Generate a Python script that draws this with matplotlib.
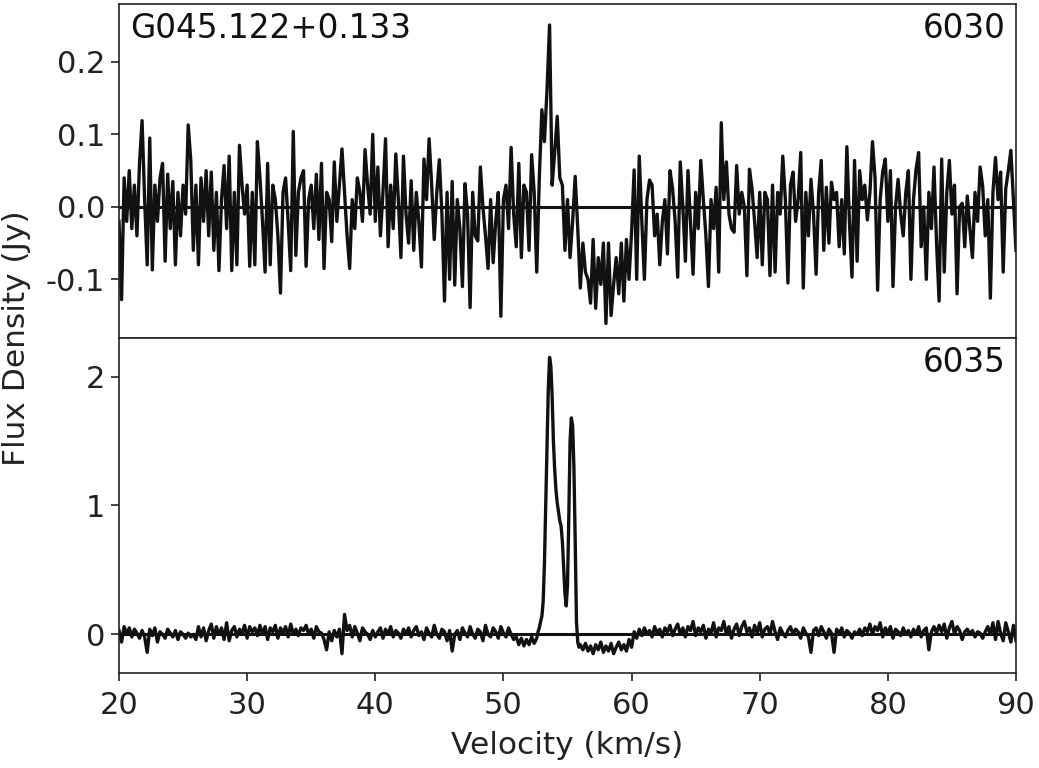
import numpy as np
import matplotlib
matplotlib.use("Agg")
import matplotlib.pyplot as plt

# ---------------- data ----------------
source_name = "G045.122+0.133"
label_top = "6030"
label_bot = "6035"

# top panel (6030 MHz): velocity grid 20..90 km/s, 0.2 km/s channels
top_vel = np.linspace(20.0, 90.0, 351)
top_flux = [
    -0.02, -0.128, 0.04, -0.02, 0.05, -0.03, 0.03, -0.04, 0.06, 0.119,
    0.01, -0.08, 0.095, -0.087, 0.03, -0.02, 0.04, 0.06, -0.075, 0.045,
    -0.03, 0.035, -0.08, 0.02, -0.04, 0.03, -0.01, 0.113, 0.065, -0.06,
    0.03, -0.08, 0.04, -0.02, 0.05, -0.04, 0.048, -0.06, 0.02, -0.088,
    0.01, 0.057, -0.03, 0.07, -0.088, 0.02, -0.08, 0.085, 0.03, -0.01,
    0.03, -0.082, 0.02, -0.08, 0.09, 0.04, -0.02, -0.09, 0.06, -0.08,
    0.03, 0.01, -0.04, -0.119, 0.02, 0.04, -0.02, -0.088, 0.104, -0.067,
    0.02, 0.04, 0.05, -0.082, 0.01, 0.03, -0.03, 0.045, -0.045, 0.06,
    -0.085, 0.02, 0.01, -0.048, 0.062, -0.02, 0.03, 0.08, 0.02, -0.04,
    -0.085, 0.01, -0.03, 0.04, 0.02, -0.02, 0.079, 0.03, -0.01, 0.10,
    -0.02, 0.055, -0.04, 0.02, 0.094, -0.055, 0.03, -0.03, 0.073, 0.01,
    -0.07, 0.07, -0.01, -0.05, 0.036, -0.06, 0.02, -0.02, -0.083, 0.066,
    0.01, 0.094, 0.03, -0.045, 0.02, 0.065, -0.01, -0.13, 0.02, -0.10,
    0.035, -0.108, 0.01, -0.03, -0.11, 0.032, -0.01, -0.139, 0.02, -0.04,
    -0.047, 0.055, 0.0, -0.04, -0.085, 0.01, -0.077, -0.02, 0.02, -0.151,
    0.01, 0.03, -0.03, 0.082, -0.01, -0.055, 0.06, -0.07, 0.03, 0.02,
    -0.06, 0.072, 0.02, -0.09, 0.04, 0.134, 0.09, 0.161, 0.251, 0.03,
    0.075, 0.125, 0.04, 0.03, -0.06, 0.01, -0.07, -0.02, 0.042, -0.03,
    -0.112, -0.05, -0.09, -0.10, -0.133, -0.045, -0.14, -0.07, -0.107, -0.05,
    -0.161, -0.05, -0.15, -0.107, -0.07, -0.12, -0.05, -0.13, -0.045, -0.10,
    -0.035, 0.051, -0.10, 0.07, -0.02, -0.10, 0.01, 0.037, 0.03, -0.04,
    -0.01, -0.08, -0.02, 0.01, -0.065, 0.05, 0.025, -0.02, -0.097, 0.062,
    0.0, -0.075, 0.05, -0.02, -0.093, 0.02, -0.03, 0.064, 0.01, -0.04,
    -0.11, 0.01, -0.03, 0.027, -0.09, 0.116, 0.01, 0.062, -0.01, -0.03,
    -0.035, 0.057, -0.01, 0.02, 0.0, -0.095, 0.052, 0.025, -0.02, -0.07,
    0.02, -0.08, 0.02, 0.01, -0.095, 0.03, -0.09, 0.02, -0.01, 0.07,
    0.01, -0.105, 0.03, 0.048, -0.02, 0.01, 0.075, -0.112, 0.02, -0.04,
    0.038, -0.01, -0.093, 0.02, 0.064, -0.06, 0.027, -0.05, 0.034, 0.01,
    0.02, -0.055, 0.01, -0.065, 0.083, -0.02, -0.097, 0.064, -0.075, 0.05,
    0.01, 0.03, -0.018, 0.02, 0.09, 0.04, -0.115, 0.01, 0.049, 0.066,
    -0.02, 0.05, -0.11, 0.0, 0.038, -0.01, -0.04, 0.02, 0.05, -0.10,
    0.01, 0.052, 0.075, -0.055, 0.0, -0.10, 0.02, -0.03, 0.055, -0.05,
    -0.13, 0.066, -0.09, 0.02, 0.064, -0.01, 0.03, -0.12, 0.0, 0.005,
    -0.055, 0.015, -0.03, -0.07, 0.02, -0.02, 0.055, 0.028, -0.04, 0.01,
    -0.126, 0.02, 0.068, 0.01, 0.048, -0.09, 0.025, 0.05, 0.078, 0.01,
    -0.06,
]

# bottom panel (6035 MHz): baseline before the line, 0.2 km/s channels
bot_vel_pre = np.linspace(20.0, 52.4, 163)
bot_flux_pre = [
    0.03, -0.06, 0.06, 0.0, 0.05, -0.02, 0.04, 0.01, -0.03, 0.03,
    -0.02, -0.14, 0.04, -0.01, 0.05, -0.06, 0.02, 0.0, -0.03, 0.04,
    0.01, -0.02, 0.03, -0.04, 0.02, 0.0, -0.03, 0.01, -0.02, 0.0,
    -0.04, 0.06, -0.02, 0.05, -0.05, 0.03, 0.08, -0.03, 0.06, 0.0,
    0.05, -0.04, 0.09, -0.05, 0.03, 0.06, -0.02, 0.04, 0.01, 0.07,
    -0.03, 0.06, 0.02, 0.05, -0.01, 0.07, 0.0, 0.06, -0.04, 0.05,
    0.02, 0.07, -0.03, 0.05, 0.01, 0.06, -0.02, 0.08, 0.0, 0.04,
    -0.01, 0.05, 0.03, 0.07, 0.0, 0.04, -0.03, 0.06, 0.02, 0.01,
    -0.04, -0.12, 0.02, -0.05, 0.03, -0.02, 0.04, -0.15, 0.155, 0.03,
    0.07, -0.02, 0.06, 0.01, -0.05, 0.05, 0.02, 0.0, -0.04, 0.03,
    -0.02, 0.02, 0.05, -0.03, 0.04, 0.0, 0.06, -0.02, 0.03, 0.01,
    -0.03, 0.04, 0.0, 0.05, -0.02, 0.03, 0.06, -0.01, 0.02, -0.04,
    0.05, 0.01, -0.02, 0.07, 0.0, -0.03, 0.04, 0.02, -0.05, 0.03,
    -0.13, 0.0, 0.03, -0.04, 0.05, 0.01, -0.02, 0.06, 0.0, -0.03,
    0.04, 0.02, -0.05, 0.07, 0.0, -0.02, 0.05, 0.02, -0.03, 0.06,
    0.01, -0.02, 0.05, 0.0, -0.04, -0.02, -0.08, -0.03, -0.09, -0.04,
    -0.08, -0.02, -0.07,
]
# maser line, 0.1 km/s channels
bot_vel_line = np.linspace(52.6, 56.0, 35)
bot_flux_line = [
    -0.03, 0.02, 0.05, 0.10, 0.14, 0.25, 0.55, 1.00, 1.45, 1.90,
    2.15, 2.08, 1.85, 1.50, 1.28, 1.12, 1.02, 0.95, 0.88, 0.84,
    0.72, 0.52, 0.32, 0.22, 0.38, 0.90, 1.50, 1.68, 1.62, 1.30,
    0.73, 0.10, -0.06, -0.10, -0.08,
]
# baseline after the line
bot_vel_post = np.linspace(56.2, 90.0, 170)
bot_flux_post = [
    -0.12, -0.07, -0.13, -0.09, -0.15, -0.08, -0.12, -0.06, -0.14,
    -0.09, -0.13, -0.07, -0.15, -0.10, -0.06, -0.12, -0.08, -0.13, -0.04,
    -0.10, 0.02, -0.03, 0.04, -0.01, 0.05, 0.0, 0.03, -0.02, 0.06,
    0.01, 0.04, -0.02, 0.05, 0.02, 0.07, -0.01, 0.04, 0.08, 0.0,
    0.05, -0.02, 0.06, 0.03, 0.10, -0.01, 0.05, 0.02, 0.07, -0.03,
    0.04, 0.01, 0.09, -0.02, 0.05, 0.03, 0.10, 0.0, 0.06, -0.03,
    0.04, 0.08, -0.01, 0.06, 0.10, 0.02, 0.05, -0.02, 0.07, 0.01,
    0.09, -0.02, 0.04, 0.06, 0.0, 0.10, 0.02, -0.04, 0.05, 0.01,
    -0.02, 0.03, 0.06, 0.0, 0.04, 0.02, -0.03, 0.05, 0.01, -0.02,
    -0.14, 0.03, 0.05, -0.01, 0.06, 0.02, -0.03, 0.04, 0.01, -0.14,
    0.04, 0.0, 0.05, -0.02, 0.03, 0.01, -0.03, 0.02, 0.0, 0.04,
    -0.01, 0.05, 0.02, 0.08, 0.0, 0.06, 0.03, 0.09, -0.02, 0.05,
    0.01, 0.06, -0.03, 0.04, 0.02, -0.01, 0.05, 0.0, 0.03, -0.02,
    0.04, 0.0, 0.06, -0.02, 0.03, 0.05, -0.12, 0.02, 0.06, 0.01,
    0.07, 0.02, 0.08, -0.03, 0.05, 0.10, 0.0, 0.06, 0.03, -0.04,
    0.02, 0.04, 0.0, 0.03, -0.02, 0.02, 0.01, -0.03, 0.02, 0.06,
    0.0, 0.09, -0.04, 0.10, 0.01, -0.05, 0.09, 0.02, -0.06, 0.07,
    -0.05,
]

x_ticks = [20, 30, 40, 50, 60, 70, 80, 90]
top_yticks = [-0.1, 0.0, 0.1, 0.2]
top_yticklabels = ["-0.1", "0.0", "0.1", "0.2"]
bot_yticks = [0, 1, 2]

# ---------------- plot ----------------
line_color = "#111111"
fs_tick = 22
fs_label = 22.5
fs_text = 23.5

fig = plt.figure(figsize=(10.39, 7.68), dpi=100)
left, right = 119 / 1039, 1016 / 1039
y_top, y_mid, y_bot = 1 - 4 / 768, 1 - 338 / 768, 1 - 673 / 768
ax1 = fig.add_axes([left, y_mid, right - left, y_top - y_mid])
ax2 = fig.add_axes([left, y_bot, right - left, y_mid - y_bot], sharex=ax1)

bot_vel = np.concatenate([bot_vel_pre, bot_vel_line, bot_vel_post])
bot_flux = np.concatenate([bot_flux_pre, bot_flux_line, bot_flux_post])

for ax, v, f in [(ax1, top_vel, top_flux), (ax2, bot_vel, bot_flux)]:
    ax.axhline(0, color=line_color, lw=2.2, zorder=1)
    ax.plot(v, f, color=line_color, lw=2.4, zorder=2)
    for s in ax.spines.values():
        s.set_linewidth(1.2)
        s.set_color("#222222")
    ax.tick_params(axis="both", labelsize=fs_tick, direction="out",
                   length=6, width=1.2, pad=4, colors="#222222")

ax1.set_xlim(20, 90)
ax1.set_ylim(-0.181, 0.28)
ax1.set_yticks(top_yticks)
ax1.set_yticklabels(top_yticklabels)
ax1.tick_params(axis="x", bottom=False, labelbottom=False)

ax2.set_ylim(-0.30, 2.30)
ax2.set_yticks(bot_yticks)
ax2.set_xticks(x_ticks)
ax2.tick_params(axis="x", pad=7)
ax2.set_xlabel("Velocity (km/s)", fontsize=fs_label, color="#222222",
               labelpad=8)

ax1.text(0.012, 0.975, source_name, transform=ax1.transAxes,
         fontsize=fs_text, ha="left", va="top", color="#111111")
ax1.text(0.988, 0.975, label_top, transform=ax1.transAxes,
         fontsize=fs_text, ha="right", va="top", color="#111111")
ax2.text(0.988, 0.975, label_bot, transform=ax2.transAxes,
         fontsize=fs_text, ha="right", va="top", color="#111111")

fig.text(0.016, (y_top + y_bot) / 2, "Flux Density (Jy)", rotation=90,
         fontsize=fs_label, ha="center", va="center", color="#222222")

fig.savefig("out.png", dpi=100)
